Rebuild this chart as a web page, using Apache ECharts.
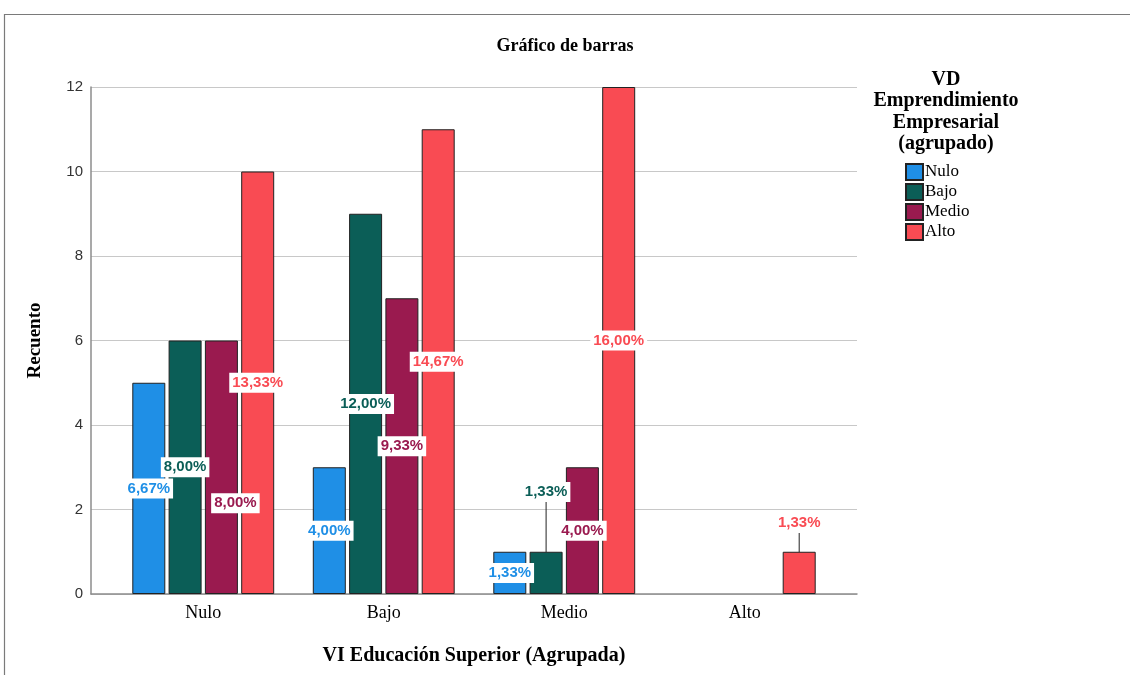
<!DOCTYPE html>
<html>
<head>
<meta charset="utf-8">
<script src="https://cdn.jsdelivr.net/npm/echarts@6/dist/echarts.min.js"></script>
<style>html,body{margin:0;padding:0;background:#fff}#c{width:1130px;height:675px}</style>
</head>
<body>
<div id="c"></div>
<script>
const categories = ['Nulo', 'Bajo', 'Medio', 'Alto'];
const seriesNames = ['Nulo', 'Bajo', 'Medio', 'Alto'];
const valNulo  = [5, 3, 1, null];
const valBajo  = [6, 9, 1, null];
const valMedio = [6, 7, 3, null];
const valAlto  = [10, 11, 12, 1];
const pctNulo  = ['6,67%', '4,00%', '1,33%', ''];
const pctBajo  = ['8,00%', '12,00%', '1,33%', ''];
const pctMedio = ['8,00%', '9,33%', '4,00%', ''];
const pctAlto  = ['13,33%', '14,67%', '16,00%', '1,33%'];
const yMin = 0, yMax = 12, yStep = 2;

const colors = ['#1F8FE6', '#0B5E57', '#9A1A4F', '#F94B53'];
const vals = [valNulo, valBajo, valMedio, valAlto];
const pcts = [pctNulo, pctBajo, pctMedio, pctAlto];
// label adjustments (styling only): [dx, dy, showGuideLine]
const labelMoves = { '2-0': [14, 36, false], '1-2': [0, -81, true], '3-3': [0, -50, true] };

const serif = '"Liberation Serif", "DejaVu Serif", serif';
const sans = '"Liberation Sans", Arial, sans-serif';

const series = seriesNames.map((name, s) => ({
  name: name,
  type: 'bar',
  xAxisIndex: 1,
  yAxisIndex: 1,
  barWidth: 33,
  barGap: '10%',
  itemStyle: { color: colors[s], borderColor: '#222', borderWidth: 1 },
  label: {
    show: true,
    position: 'inside',
    formatter: p => pcts[s][p.dataIndex],
    color: colors[s],
    fontFamily: sans,
    fontWeight: 'bold',
    fontSize: 15,
    backgroundColor: '#fff',
    padding: [3, 3, 2, 3]
  },
  labelLine: { show: false, lineStyle: { color: '#222', width: 1 } },
  labelLayout: p => {
    const m = labelMoves[s + '-' + p.dataIndex];
    if (m) return { dx: m[0], dy: m[1] };
    return {};
  },
  data: vals[s].map((v, i) => {
    const m = labelMoves[s + '-' + i];
    const item = { value: v };
    if (m && m[2]) item.labelLine = { show: true, lineStyle: { color: '#222', width: 1 } };
    return item;
  })
}));

const chart = echarts.init(document.getElementById('c'));
chart.setOption({
  animation: false,
  backgroundColor: '#fff',
  title: [
    { text: 'Gráfico de barras', left: 'center', top: 32,
      textStyle: { fontFamily: serif, fontWeight: 'bold', fontSize: 18, color: '#000' } },
    { text: 'VD\nEmprendimiento\nEmpresarial\n(agrupado)', left: 941, top: 64, textAlign: 'center',
      textStyle: { fontFamily: serif, fontWeight: 'bold', fontSize: 20, lineHeight: 21.5, color: '#000', align: 'center' } }
  ],
  legend: {
    data: seriesNames,
    orient: 'vertical',
    left: 905, top: 163, padding: 0,
    itemWidth: 17, itemHeight: 16, itemGap: 2,
    icon: 'rect',
    textStyle: { fontFamily: serif, fontSize: 17, lineHeight: 16, color: '#000', padding: [0, 0, 0, -3] }
  },
  graphic: [
    { type: 'rect', shape: { x: 4.5, y: 14.5, width: 1300, height: 800 },
      style: { fill: 'none', stroke: '#7a7a7a', lineWidth: 1.2 }, silent: true }
  ],
  grid: [
    { left: 91, right: 273, top: 87, bottom: 81 },
    { left: 113, right: 295, top: 87, bottom: 81 }
  ],
  xAxis: [
    { gridIndex: 0, type: 'value', min: 0, max: 1,
      axisLine: { show: true, onZero: false, lineStyle: { color: '#8c8c8c', width: 1.5 } },
      axisTick: { show: false }, axisLabel: { show: false }, splitLine: { show: false },
      name: 'VI Educación Superior (Agrupada)', nameLocation: 'middle', nameGap: 52,
      nameTextStyle: { fontFamily: serif, fontWeight: 'bold', fontSize: 20, color: '#000' } },
    { gridIndex: 1, type: 'category', data: categories,
      axisLine: { show: false }, axisTick: { show: false },
      axisLabel: { fontFamily: serif, fontSize: 18, color: '#000', margin: 10 } }
  ],
  yAxis: [
    { gridIndex: 0, type: 'value', min: yMin, max: yMax, interval: yStep,
      axisLine: { show: true, lineStyle: { color: '#8c8c8c', width: 1.5 } },
      axisTick: { show: false },
      axisLabel: { fontFamily: sans, fontSize: 15, color: '#333', margin: 8 },
      splitLine: { show: true, lineStyle: { color: '#c8c8c8', width: 1 } },
      name: 'Recuento', nameLocation: 'middle', nameRotate: 90, nameGap: 46,
      nameTextStyle: { fontFamily: serif, fontWeight: 'bold', fontSize: 19, color: '#000' } },
    { gridIndex: 1, type: 'value', min: yMin, max: yMax, interval: yStep, show: false }
  ],
  series: series
});
</script>
</body>
</html>
